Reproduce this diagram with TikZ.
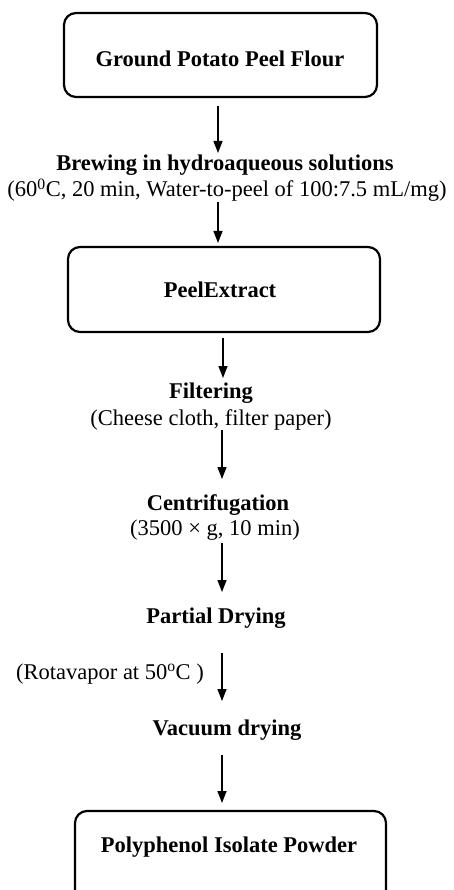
\documentclass[tikz,border=0pt]{standalone}
\usepackage{fontspec}
\setmainfont{Liberation Serif}
\usetikzlibrary{arrows.meta}
\begin{document}
\begin{tikzpicture}[x=1pt,y=-1pt,
  every node/.style={inner sep=0pt,anchor=base,font=\fontsize{22.5}{27}\selectfont},
  bold/.style={font=\fontsize{22.5}{27}\selectfont\bfseries},
  boxframe/.style={draw=black,line width=2.2pt,rounded corners=12pt},
  arr/.style={line width=1.4pt,-{Triangle[length=12pt,width=9pt]}}]
\useasboundingbox (0,0) rectangle (453,890);
\clip (0,0) rectangle (453,890);
% boxes
\draw[boxframe] (64,13) rectangle (377,97);
\draw[boxframe] (68,247) rectangle (380,332);
\draw[boxframe] (75,811) rectangle (386,920);
% texts
\node[bold] (ground) at (220,67) {Ground Potato Peel Flour};
\node[bold] (brew) at (225,171) {Brewing in hydroaqueous solutions};
\node (brewsub) at (227,197) {(60\textsuperscript{0}C, 20 min, Water-to-peel of 100:7.5 mL/mg)};
\node[bold] (peel) at (220,298) {PeelExtract};
\node[bold] (filt) at (211,398) {Filtering};
\node (filtsub) at (211,425) {(Cheese cloth, filter paper)};
\node[bold] (cent) at (218,510) {Centrifugation};
\node (centsub) at (215,535) {(3500 × g, 10 min)};
\node[bold] (part) at (216,623) {Partial Drying};
\node (rota) at (110,679) {(Rotavapor at 50\textsuperscript{o}C )};
\node[bold] (vac) at (227,735) {Vacuum drying};
\node[bold] (poly) at (229,852) {Polyphenol Isolate Powder};
% arrow ends
\coordinate (a1s) at (218,106); \coordinate (a1e) at (218,153);
\coordinate (a2s) at (218,202); \coordinate (a2e) at (218,243);
\coordinate (a3s) at (223,338); \coordinate (a3e) at (223,378);
\coordinate (a4s) at (222,430); \coordinate (a4e) at (222,479);
\coordinate (a5s) at (222,543); \coordinate (a5e) at (222,592);
\coordinate (a6s) at (222,653); \coordinate (a6e) at (222,701);
\coordinate (a7s) at (222,755); \coordinate (a7e) at (222,803);
\draw[arr] (a1s) -- (a1e);
\draw[arr] (a2s) -- (a2e);
\draw[arr] (a3s) -- (a3e);
\draw[arr] (a4s) -- (a4e);
\draw[arr] (a5s) -- (a5e);
\draw[arr] (a6s) -- (a6e);
\draw[arr] (a7s) -- (a7e);
\end{tikzpicture}
\end{document}
